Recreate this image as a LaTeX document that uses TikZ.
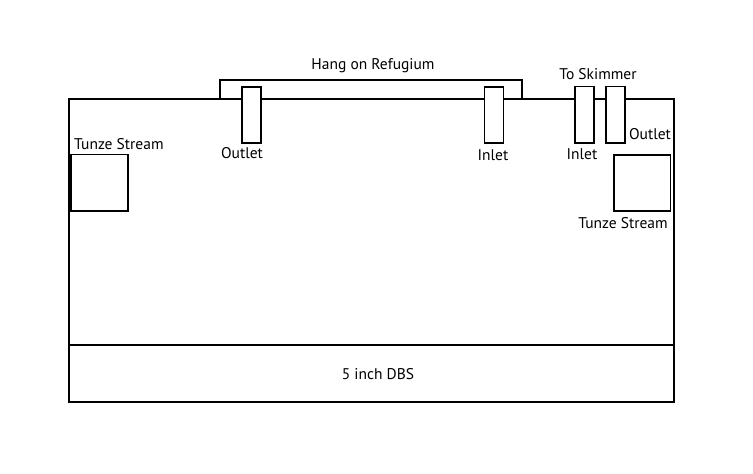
\documentclass[tikz,border=0pt]{standalone}
\usepackage{fontspec}
\setmainfont{PT Sans}
\begin{document}
\begin{tikzpicture}[x=1pt,y=-1pt,
  box/.style={draw=black,fill=white,inner sep=0pt,outer sep=0pt,anchor=north west,rectangle},
  tank/.style={box,line width=2pt},
  part/.style={box,line width=1.5pt},
  lbl/.style={font=\fontsize{15.5}{17}\selectfont,inner sep=0pt}]
\useasboundingbox (0,0) rectangle (753,474);
% tank
\node[tank,minimum width=605pt,minimum height=303pt] (tank) at (69,99) {};
\coordinate (dbsL) at (69,345);
\coordinate (dbsR) at (674,345);
\draw[line width=2pt] (dbsL) -- (dbsR);
\node[lbl] (dbs) at (378,374) {5 inch DBS};
% refugium
\node[part,fill=none,minimum width=302pt,minimum height=19pt] (refugium) at (220,80) {};
\node[lbl] (reflbl) at (373,66) {Hang on Refugium};
\node[part,minimum width=19pt,minimum height=56pt] (refout) at (242,87) {};
\node[part,minimum width=19pt,minimum height=56pt] (refin) at (484.5,87) {};
\node[lbl] (refoutlbl) at (242,153) {Outlet};
\node[lbl] (refinlbl) at (493,155) {Inlet};
% skimmer
\node[part,minimum width=19pt,minimum height=56.5pt] (skin) at (575,86.5) {};
\node[part,minimum width=19pt,minimum height=56.5pt] (skout) at (606,86.5) {};
\node[lbl] (sklbl) at (598,74) {To Skimmer};
\node[lbl] (skinlbl) at (582,154) {Inlet};
\node[lbl] (skoutlbl) at (650,134) {Outlet};
% tunze streams
\node[part,minimum width=57pt,minimum height=56.5pt] (tunzeL) at (71,154.5) {};
\node[lbl,anchor=west] (tunzeLlbl) at (74,144) {Tunze Stream};
\node[part,minimum width=56.5pt,minimum height=56pt] (tunzeR) at (614,155) {};
\node[lbl] (tunzeRlbl) at (623,223) {Tunze Stream};
\end{tikzpicture}
\end{document}
